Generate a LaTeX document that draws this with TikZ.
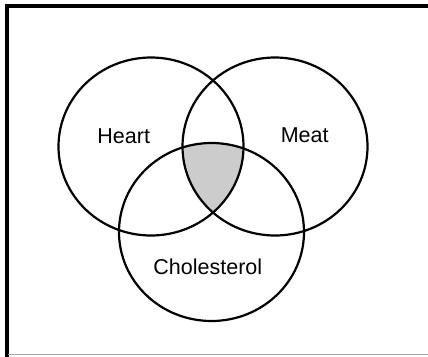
\documentclass[tikz,border=0pt]{standalone}
\usepackage{fontspec}
\setmainfont{Liberation Sans}
\begin{document}
\begin{tikzpicture}[x=1pt,y=-1pt,
  venn/.style={line width=2.2pt,draw=black},
  lbl/.style={font=\fontsize{21.5}{24}\selectfont,inner sep=0pt,anchor=base}]
\useasboundingbox (0,0) rectangle (428,356);
\fill[white] (0,0) rectangle (428,356);
% frame
\draw[line width=4pt,black] (6.5,358) -- (6.5,6) -- (430,6);
\draw[line width=1pt,gray!70] (8,354.5) -- (430,354.5);
\coordinate (H) at (151,146.5);
\coordinate (M) at (275,146.5);
\coordinate (C) at (211.5,232);
% shaded triple intersection
\begin{scope}
  \clip (H) ellipse [x radius=92.5, y radius=89];
  \clip (M) ellipse [x radius=92.5, y radius=89];
  \fill[gray!40] (C) ellipse [x radius=92.5, y radius=89];
\end{scope}
\draw[venn] (H) ellipse [x radius=92.5, y radius=89];
\draw[venn] (M) ellipse [x radius=92.5, y radius=89];
\draw[venn] (C) ellipse [x radius=92.5, y radius=89];
\node[lbl] (heart) at (123.7,143.3) {Heart};
\node[lbl] (meat) at (304.7,142.3) {Meat};
\node[lbl] (chol) at (207.8,274.3) {Cholesterol};
\end{tikzpicture}
\end{document}
